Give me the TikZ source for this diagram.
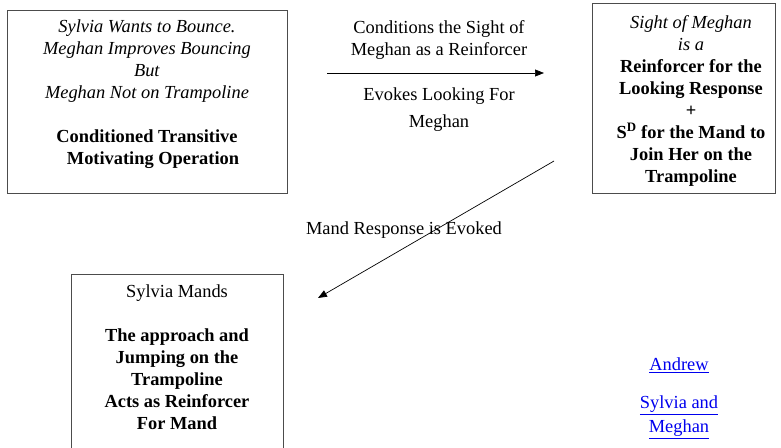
\documentclass[tikz,border=0pt]{standalone}
\usepackage{fontspec}
\setmainfont{Liberation Serif}
\usetikzlibrary{arrows.meta}
\definecolor{linkblue}{RGB}{0,0,238}
\begin{document}
\begin{tikzpicture}[x=1pt,y=-1pt,
  box/.style={draw=black!70,line width=0.8pt,rectangle,inner sep=0pt},
  txt/.style={anchor=north,inner sep=0pt,align=center,font=\fontsize{18.4}{22}\selectfont},
  link/.style={txt,text=linkblue},
  conn/.style={draw=black,line width=0.7pt,-{Triangle[length=9pt,width=7pt]}}]
\useasboundingbox (0,0) rectangle (781,447);
\clip (0,0) rectangle (781,447);
% boxes
\node[box,minimum width=280pt,minimum height=183pt] (mo) at (147,101.5) {};
\node[box,minimum width=183pt,minimum height=190pt] (sd) at (683.5,98) {};
\node[box,minimum width=212pt,minimum height=196pt] (mand) at (177,372) {};
% box texts
\node[txt] (motext) at (147,20) {\textit{Sylvia Wants to Bounce.}\\ \textit{Meghan Improves Bouncing}\\ \textit{But}\\ \textit{Meghan Not on Trampoline}\\[22pt] \textbf{Conditioned Transitive}\\ \hspace*{12pt}\textbf{Motivating Operation}};
\node[txt] (sdtext) at (691,15) {\textit{Sight of Meghan}\\ \textit{is a}\\ \textbf{Reinforcer for the}\\ \textbf{Looking Response}\\ \textbf{+}\\ \textbf{S\textsuperscript{D} for the Mand to}\\ \textbf{Join Her on the}\\ \textbf{Trampoline}};
\node[txt] (mandtext) at (177,285) {Sylvia Mands\\[22pt] \textbf{The approach and}\\ \textbf{Jumping on the}\\ \textbf{Trampoline}\\ \textbf{Acts as Reinforcer}\\ \textbf{For Mand}};
% connector labels
\node[txt] (l1) at (439,20) {Conditions the Sight of\\ Meghan as a Reinforcer};
\node[txt] (l2) at (439,88) {Evokes Looking For\\[5pt] Meghan};
\node[txt] (l3) at (404,222) {Mand Response is Evoked};
% connectors
\coordinate (a1s) at (327,73);
\coordinate (a1e) at (544,73);
\coordinate (a2s) at (554,161);
\coordinate (a2e) at (318,298);
\draw[conn] (a1s) -- (a1e);
\draw[conn] (a2s) -- (a2e);
% links
\node[link] (andrew) at (679,358) {\underline{Andrew}};
\node[link] (sm) at (679,396) {\underline{Sylvia and}\\[2pt] \underline{Meghan}};
\end{tikzpicture}
\end{document}
